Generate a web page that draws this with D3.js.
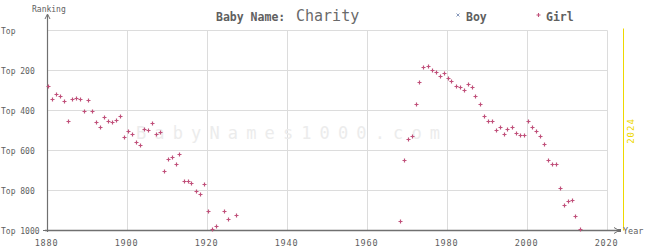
<!DOCTYPE html>
<html><head><meta charset="utf-8">
<script src="https://cdn.jsdelivr.net/npm/d3@7"></script>
<style>body{margin:0;background:#fff}svg{display:block}text{font-family:"DejaVu Sans Mono",monospace}</style>
</head><body><svg id="c" width="645" height="250"></svg>
<script>
const girlYears = [1880,1881,1882,1883,1884,1885,1886,1887,1888,1889,1890,1891,1892,1893,1894,1895,1896,1897,1898,1899,
1900,1901,1902,1903,1904,1905,1906,1907,1908,1909,1910,1911,1912,1913,1914,1915,1916,1917,1918,1919,
1920,1921,1922,1924,1925,1927,
1968,1969,1970,1971,1972,1973,1974,1975,1976,1977,1978,1979,1980,1981,1982,1983,1984,1985,1986,1987,1988,1989,
1990,1991,1992,1993,1994,1995,1996,1997,1998,1999,2000,2001,2002,2003,2004,2005,2006,2007,2008,2009,2010,2011,2012,2013];
const girlRanks = [278,343,318,328,353,453,343,338,343,403,348,403,458,483,433,453,458,448,428,533,
503,518,558,573,493,498,463,518,508,703,643,633,668,618,753,753,763,803,818,768,
903,993,978,903,943,923,
953,648,543,528,368,258,183,178,198,208,228,213,238,253,278,283,298,268,283,328,368,428,
453,453,498,483,518,493,483,513,523,523,453,483,503,528,568,648,668,668,788,873,853,848,928,993];
const boyYears = [];
const boyRanks = [];
const xTicks = [1880,1900,1920,1940,1960,1980,2000,2020];
const yTicks = [0,200,400,600,800,1000];
const yTickLabels = ["Top","Top 200","Top 400","Top 600","Top 800","Top 1000"];
const titleLabel = "Baby Name:";
const nameLabel = "Charity";
const currentYear = 2024;

const svg = d3.select("#c");
const x = d3.scaleLinear().domain([1880,2020]).range([47.5,607.5]);
const y = d3.scaleLinear().domain([0,1000]).range([30.5,230.5]);
const grid = "#dcdcdc", axisC = "#707070", textC = "#606060";
const girlC = "#c0507a", boyC = "#8899bb";

// grid
svg.append("g").selectAll("line").data(yTicks.slice(0,-1)).join("line")
  .attr("x1",x(1880)).attr("x2",x(2020)).attr("y1",d=>y(d)).attr("y2",d=>y(d))
  .attr("stroke",grid).attr("stroke-width",1);
svg.append("g").selectAll("line").data(xTicks.slice(1)).join("line")
  .attr("x1",d=>x(d)).attr("x2",d=>x(d)).attr("y1",y(0)).attr("y2",y(1000))
  .attr("stroke",grid).attr("stroke-width",1);

// watermark
svg.append("text").attr("x",136).attr("y",139).attr("textLength",304).attr("lengthAdjust","spacing")
  .attr("font-size",17).attr("fill","#ececec").text("BabyNames1000.com");

// current year line
svg.append("line").attr("x1",x(currentYear)).attr("x2",x(currentYear)).attr("y1",y(0)-2).attr("y2",y(1000))
  .attr("stroke","#eed800").attr("stroke-width",1);
svg.append("text").attr("transform",`translate(${x(currentYear)+10},131) rotate(-90)`)
  .attr("text-anchor","middle").attr("font-size",9).attr("fill","#eed800").attr("letter-spacing",1).text(currentYear);

// axes
svg.append("line").attr("x1",47.5).attr("x2",47.5).attr("y1",15).attr("y2",232).attr("stroke",axisC).attr("stroke-width",1.2);
svg.append("path").attr("d","M45,19 L47.5,14 L50,19").attr("fill","none").attr("stroke",axisC).attr("stroke-width",1);
svg.append("line").attr("x1",45).attr("x2",621).attr("y1",230.5).attr("y2",230.5).attr("stroke",axisC).attr("stroke-width",1.4);
svg.append("path").attr("d","M614,227.5 L619,230.5 L614,233.5").attr("fill","none").attr("stroke",axisC).attr("stroke-width",1);
svg.append("rect").attr("x",618).attr("y",229).attr("width",3).attr("height",3).attr("fill",axisC);
svg.append("text").attr("x",623).attr("y",234).attr("font-size",8.5).attr("fill",textC).text("Year");
svg.append("text").attr("x",32).attr("y",12).attr("font-size",8).attr("fill",textC).text("Ranking");

// tick labels
svg.append("g").selectAll("text").data(yTicks).join("text")
  .attr("x",1).attr("y",d=>y(d)+3).attr("font-size",8).attr("fill",textC)
  .text((d,i)=>yTickLabels[i]);
svg.append("g").selectAll("text").data(xTicks).join("text")
  .attr("x",d=>x(d)-1).attr("y",246).attr("text-anchor","middle").attr("font-size",8.5).attr("letter-spacing",0.8)
  .attr("fill",textC).text(d=>d);
svg.append("line").attr("x1",43).attr("x2",47).attr("y1",230.5).attr("y2",230.5).attr("stroke",axisC);

// title
svg.append("text").attr("x",216).attr("y",21).attr("font-size",11.5).attr("font-weight","bold").attr("fill",textC).text(titleLabel);
svg.append("text").attr("x",296).attr("y",21).attr("font-size",15).attr("fill","#6a6a6a").text(nameLabel);
// legend
svg.append("path").attr("d","M456.5,13.5 l3,3 M459.5,13.5 l-3,3").attr("stroke",boyC).attr("stroke-width",1);
svg.append("text").attr("x",466).attr("y",21).attr("font-size",11.5).attr("font-weight","bold").attr("fill",textC).text("Boy");
svg.append("path").attr("d","M538.5,13 v4 M536.5,15 h4").attr("stroke",girlC).attr("stroke-width",1.1);
svg.append("text").attr("x",546).attr("y",21).attr("font-size",11.5).attr("font-weight","bold").attr("fill",textC).text("Girl");

// points
const plus = (cx,cy)=>`M${cx-2},${cy} h4 M${cx},${cy-2} v4`;
svg.append("g").selectAll("path").data(girlYears).join("path")
  .attr("d",(d,i)=>plus(Math.round(x(d))+0.5,Math.round(y(girlRanks[i]))+0.5))
  .attr("stroke",girlC).attr("stroke-width",1.2).attr("fill","none");
const cross = (cx,cy)=>`M${cx-2},${cy-2} l4,4 M${cx+2},${cy-2} l-4,4`;
svg.append("g").selectAll("path").data(boyYears).join("path")
  .attr("d",(d,i)=>cross(x(d),y(boyRanks[i]))).attr("stroke",boyC).attr("stroke-width",1).attr("fill","none");
</script></body></html>
